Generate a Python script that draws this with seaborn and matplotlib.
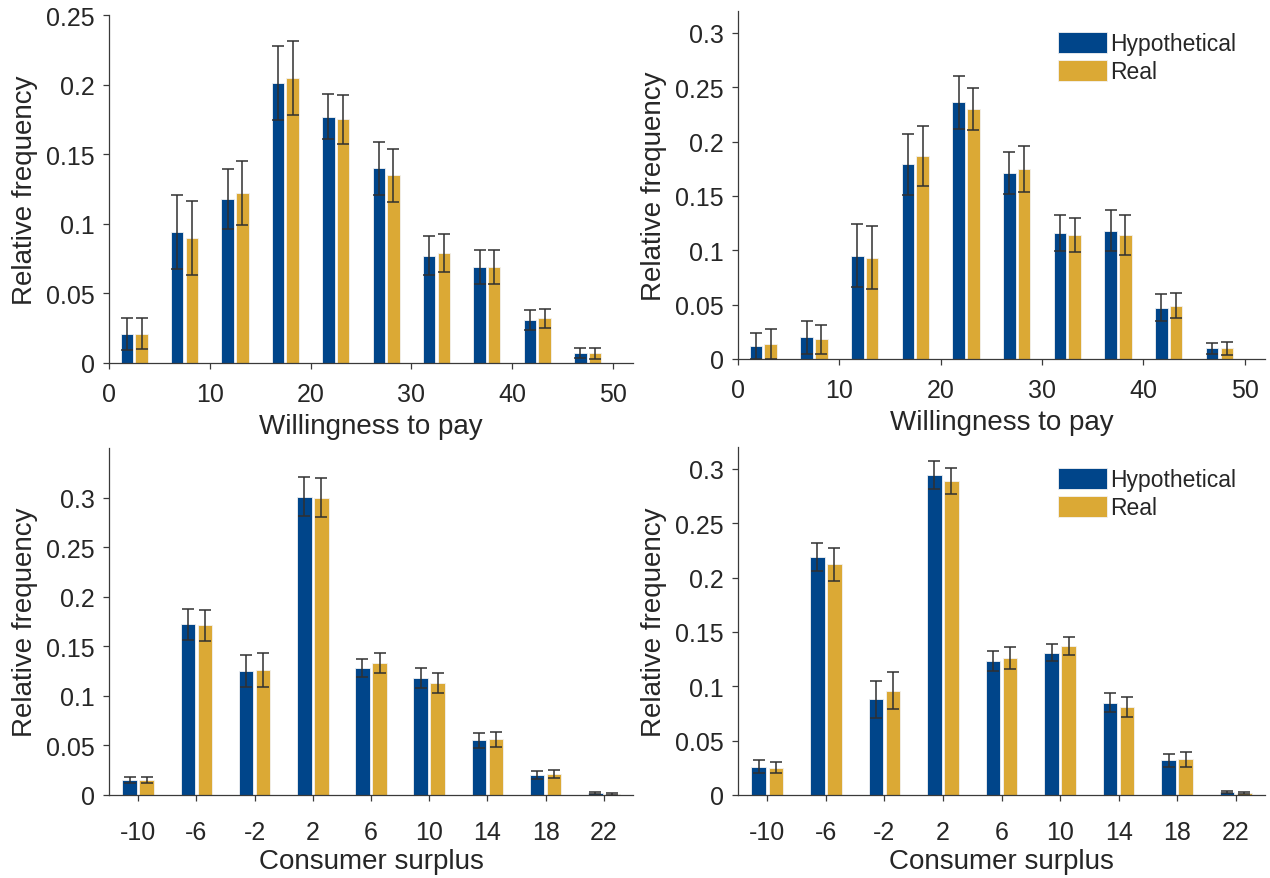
import numpy as np
import pandas as pd
import matplotlib
matplotlib.use("Agg")
import matplotlib.pyplot as plt
from matplotlib.ticker import FuncFormatter
import seaborn as sns

# ---------------- data ----------------
series = ["Hypothetical", "Real"]
colors = ["#00458A", "#DBA935"]

wtp_bins = [2.5, 7.5, 12.5, 17.5, 22.5, 27.5, 32.5, 37.5, 42.5, 47.5]
cs_bins = [-10, -6, -2, 2, 6, 10, 14, 18, 22]

# top-left
wtp_a_hyp = [0.021, 0.094, 0.118, 0.201, 0.177, 0.140, 0.077, 0.069, 0.031, 0.007]
wtp_a_hyp_err = [0.0115, 0.0265, 0.0215, 0.0265, 0.016, 0.019, 0.014, 0.0125, 0.007, 0.0035]
wtp_a_real = [0.021, 0.090, 0.122, 0.205, 0.175, 0.135, 0.079, 0.069, 0.032, 0.007]
wtp_a_real_err = [0.011, 0.0265, 0.023, 0.0265, 0.0175, 0.019, 0.0135, 0.0125, 0.007, 0.004]

# top-right
wtp_b_hyp = [0.012, 0.020, 0.095, 0.179, 0.236, 0.171, 0.116, 0.118, 0.047, 0.010]
wtp_b_hyp_err = [0.012, 0.015, 0.029, 0.028, 0.0245, 0.019, 0.0165, 0.019, 0.0125, 0.005]
wtp_b_real = [0.014, 0.018, 0.093, 0.187, 0.230, 0.175, 0.114, 0.114, 0.049, 0.010]
wtp_b_real_err = [0.014, 0.013, 0.029, 0.0275, 0.0195, 0.021, 0.0155, 0.0185, 0.0115, 0.006]

# bottom-left
cs_a_hyp = [0.015, 0.172, 0.125, 0.301, 0.128, 0.118, 0.055, 0.020, 0.002]
cs_a_hyp_err = [0.003, 0.016, 0.016, 0.020, 0.009, 0.010, 0.008, 0.004, 0.001]
cs_a_real = [0.015, 0.171, 0.126, 0.300, 0.133, 0.113, 0.056, 0.021, 0.001]
cs_a_real_err = [0.003, 0.016, 0.017, 0.020, 0.010, 0.010, 0.008, 0.004, 0.001]

# bottom-right
cs_b_hyp = [0.026, 0.219, 0.088, 0.294, 0.123, 0.131, 0.085, 0.032, 0.003]
cs_b_hyp_err = [0.006, 0.013, 0.017, 0.013, 0.009, 0.008, 0.009, 0.006, 0.001]
cs_b_real = [0.025, 0.212, 0.096, 0.289, 0.126, 0.137, 0.081, 0.033, 0.002]
cs_b_real_err = [0.005, 0.015, 0.017, 0.012, 0.010, 0.008, 0.009, 0.007, 0.001]

wtp_ticks = [0, 10, 20, 30, 40, 50]
y_ticks_a = [0, 0.05, 0.1, 0.15, 0.2, 0.25]
y_ticks_b = [0, 0.05, 0.1, 0.15, 0.2, 0.25, 0.3]

xlabel_wtp = "Willingness to pay"
xlabel_cs = "Consumer surplus"
ylabel = "Relative frequency"

# ---------------- style ----------------
sns.set_style("ticks")
plt.rcParams["font.family"] = ["Liberation Sans", "DejaVu Sans"]
plt.rcParams["axes.edgecolor"] = "#3a3a3a"
plt.rcParams["axes.linewidth"] = 0.9
plt.rcParams["xtick.color"] = "#3a3a3a"
plt.rcParams["ytick.color"] = "#3a3a3a"
plt.rcParams["xtick.labelcolor"] = "#262626"
plt.rcParams["ytick.labelcolor"] = "#262626"
plt.rcParams["text.color"] = "#262626"
plt.rcParams["axes.labelcolor"] = "#262626"

fig = plt.figure(figsize=(12.7, 8.79), dpi=100)

W, H = 1270, 879
def ax_rect(left, right, top, bottom):
    return [left / W, 1 - bottom / H, (right - left) / W, (bottom - top) / H]

panels = [
    dict(rect=ax_rect(109, 633, 16, 364), x=wtp_bins, hyp=wtp_a_hyp, hyp_err=wtp_a_hyp_err,
         real=wtp_a_real, real_err=wtp_a_real_err, xlim=(0, 52), xticks=wtp_ticks,
         ylim=(0, 0.25), yticks=y_ticks_a, xlabel=xlabel_wtp, legend=False, xpad=10, lpad=5),
    dict(rect=ax_rect(738, 1265, 12, 360), x=wtp_bins, hyp=wtp_b_hyp, hyp_err=wtp_b_hyp_err,
         real=wtp_b_real, real_err=wtp_b_real_err, xlim=(0, 52), xticks=wtp_ticks,
         ylim=(0, 0.32), yticks=y_ticks_b, xlabel=xlabel_wtp, legend=True, xpad=10, lpad=5),
    dict(rect=ax_rect(109, 633, 449, 796), x=cs_bins, hyp=cs_a_hyp, hyp_err=cs_a_hyp_err,
         real=cs_a_real, real_err=cs_a_real_err, xlim=(-12, 24), xticks=cs_bins,
         ylim=(0, 0.35), yticks=y_ticks_b, xlabel=xlabel_cs, legend=False, xpad=14, lpad=3),
    dict(rect=ax_rect(738, 1265, 448, 796), x=cs_bins, hyp=cs_b_hyp, hyp_err=cs_b_hyp_err,
         real=cs_b_real, real_err=cs_b_real_err, xlim=(-12, 24), xticks=cs_bins,
         ylim=(0, 0.32), yticks=y_ticks_b, xlabel=xlabel_cs, legend=True, xpad=14, lpad=3),
]

fmt = FuncFormatter(lambda v, p: "%g" % round(v, 4))

for pnl in panels:
    ax = fig.add_axes(pnl["rect"])
    n = len(pnl["x"])
    df = pd.DataFrame({
        "x": list(pnl["x"]) * 2,
        "freq": list(pnl["hyp"]) + list(pnl["real"]),
        "err": list(pnl["hyp_err"]) + list(pnl["real_err"]),
        "group": [series[0]] * n + [series[1]] * n,
    })
    sns.barplot(data=df, x="x", y="freq", hue="group", hue_order=series,
                palette=colors, saturation=1, native_scale=True, width=0.584, gap=0.15,
                errorbar=None, edgecolor="#f2f2f2", linewidth=0.6,
                legend=pnl["legend"], ax=ax)
    # error bars placed on the bars seaborn drew
    for cont, g in zip(ax.containers, series):
        sub = df[df["group"] == g]
        xs = [b.get_x() + b.get_width() / 2 for b in cont]
        ax.errorbar(xs, sub["freq"].values, yerr=sub["err"].values, fmt="none",
                    ecolor="#303030", elinewidth=1.1, capsize=4, capthick=1.1, zorder=5)
    ax.set_xlim(*pnl["xlim"])
    ax.set_ylim(*pnl["ylim"])
    ax.set_xticks(pnl["xticks"])
    ax.set_yticks(pnl["yticks"])
    ax.xaxis.set_major_formatter(fmt)
    ax.yaxis.set_major_formatter(fmt)
    ax.tick_params(axis="both", labelsize=18, length=4, width=0.9, direction="out", pad=6)
    ax.tick_params(axis="x", pad=pnl["xpad"])
    ax.set_xlabel(pnl["xlabel"], fontsize=20, labelpad=pnl["lpad"])
    ax.set_ylabel(ylabel, fontsize=20, labelpad=6)
    sns.despine(ax=ax)
    if pnl["legend"]:
        sns.move_legend(ax, loc="upper left", bbox_to_anchor=(0.607, 0.94),
                        frameon=False, title=None, fontsize=16.5,
                        handlelength=2.15, handleheight=1.05, handletextpad=0.15,
                        labelspacing=0.2, borderpad=0, borderaxespad=0)

fig.savefig("out.png", dpi=100)
